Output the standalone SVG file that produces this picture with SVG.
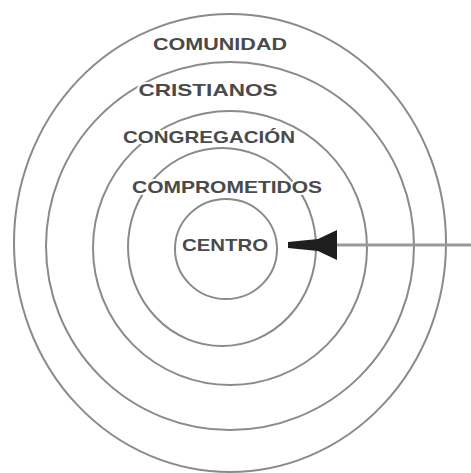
<svg xmlns="http://www.w3.org/2000/svg" width="471" height="473" viewBox="0 0 471 473">
  <style>
    .ring { fill: none; stroke: #8a8a8a; stroke-width: 2; }
    .lbl { font-family: "Liberation Sans", Arial, sans-serif; font-weight: bold; font-size: 17px; fill: #4a4a4a; text-anchor: middle; stroke: #ffffff; stroke-width: 4; paint-order: stroke; stroke-linejoin: round; }
    .conn { stroke: #9a9a9a; stroke-width: 3; fill: none; }
    .head { fill: #1e1e1e; }
  </style>
  <rect width="471" height="473" fill="#ffffff"/>
  <g id="comunidad">
    <ellipse class="ring" cx="230" cy="243" rx="216" ry="229"/>
    <text class="lbl" x="220" y="50" textLength="134" lengthAdjust="spacingAndGlyphs">COMUNIDAD</text>
  </g>
  <g id="cristianos">
    <ellipse class="ring" cx="230" cy="246" rx="184" ry="184"/>
    <text class="lbl" x="208" y="96" textLength="139" lengthAdjust="spacingAndGlyphs">CRISTIANOS</text>
  </g>
  <g id="congregacion">
    <ellipse class="ring" cx="230" cy="248" rx="137" ry="137"/>
    <text class="lbl" x="209" y="143" textLength="172" lengthAdjust="spacingAndGlyphs">CONGREGACIÓN</text>
  </g>
  <g id="comprometidos">
    <ellipse class="ring" cx="222" cy="247" rx="94" ry="99"/>
    <text class="lbl" x="227" y="193" textLength="190" lengthAdjust="spacingAndGlyphs">COMPROMETIDOS</text>
  </g>
  <g id="centro">
    <ellipse class="ring" cx="226" cy="249" rx="51" ry="50"/>
    <text class="lbl" x="225" y="251" textLength="86" lengthAdjust="spacingAndGlyphs">CENTRO</text>
  </g>
  <g id="connectors">
    <line class="conn" x1="336" y1="245" x2="471" y2="245"/>
    <polygon class="head" points="288,242 318,239 337,230 337,260 318,251 288,248"/>
  </g>
</svg>
